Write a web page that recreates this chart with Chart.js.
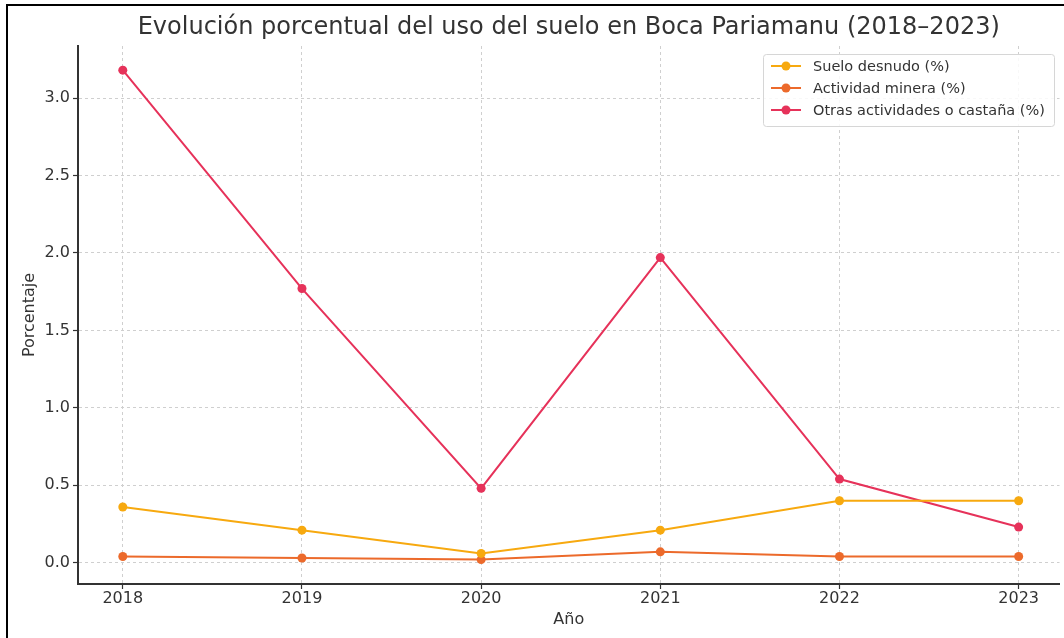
<!DOCTYPE html>
<html>
<head>
<meta charset="utf-8">
<script src="https://cdn.jsdelivr.net/npm/chart.js@4"></script>
<style>
  html, body { margin: 0; padding: 0; background: #fff; }
  #wrap { width: 1064px; height: 638px; }
</style>
</head>
<body>
<div id="wrap"><canvas id="chart" width="1064" height="638"></canvas></div>
<script>
const years = [2018, 2019, 2020, 2021, 2022, 2023];
const sueloDesnudo = [0.36, 0.21, 0.06, 0.21, 0.40, 0.40];
const actividadMinera = [0.04, 0.03, 0.02, 0.07, 0.04, 0.04];
const otrasActividades = [3.18, 1.77, 0.48, 1.97, 0.54, 0.23];
const yTicks = [0, 0.5, 1.0, 1.5, 2.0, 2.5, 3.0];

const FONT = "'DejaVu Sans', sans-serif";
const TEXT = '#333333';

function points(values) {
  return years.map((y, i) => ({ x: y, y: values[i] }));
}

function series(label, values, color) {
  return {
    label: label,
    data: points(values),
    borderColor: color,
    backgroundColor: color,
    borderWidth: 2,
    pointRadius: 4.5,
    pointHoverRadius: 4.5,
    pointBorderWidth: 0,
    tension: 0
  };
}

// frame lines on the left and top edges, white background
const framePlugin = {
  id: 'frame',
  beforeDraw(chart) {
    const ctx = chart.ctx;
    ctx.save();
    ctx.fillStyle = '#fff';
    ctx.fillRect(0, 0, chart.width, chart.height);
    ctx.restore();
  },
  afterDraw(chart) {
    const ctx = chart.ctx;
    ctx.save();
    ctx.strokeStyle = '#000';
    ctx.lineWidth = 2;
    ctx.beginPath();
    ctx.moveTo(7, chart.height);
    ctx.lineTo(7, 5);
    ctx.lineTo(chart.width, 5);
    ctx.stroke();
    ctx.restore();
  }
};

// matplotlib style legend box (line + marker)
const legendPlugin = {
  id: 'mplLegend',
  afterDatasetsDraw(chart) {
    const ctx = chart.ctx;
    const x0 = 763, y0 = 54, w = 291, h = 72;
    ctx.save();
    ctx.fillStyle = 'rgba(255,255,255,0.85)';
    ctx.strokeStyle = '#d6d6d6';
    ctx.lineWidth = 1;
    ctx.beginPath();
    ctx.roundRect(x0 + 0.5, y0 + 0.5, w, h, 3);
    ctx.fill();
    ctx.stroke();
    ctx.font = '14.5px ' + FONT;
    ctx.textBaseline = 'middle';
    chart.data.datasets.forEach((ds, i) => {
      const cy = y0 + 12 + i * 22;
      ctx.strokeStyle = ds.borderColor;
      ctx.lineWidth = 2;
      ctx.beginPath();
      ctx.moveTo(x0 + 8, cy);
      ctx.lineTo(x0 + 38, cy);
      ctx.stroke();
      ctx.fillStyle = ds.borderColor;
      ctx.beginPath();
      ctx.arc(x0 + 23, cy, 4.5, 0, Math.PI * 2);
      ctx.fill();
      ctx.fillStyle = TEXT;
      ctx.fillText(ds.label, x0 + 50, cy + 1);
    });
    ctx.restore();
  }
};

const gridOpts = {
  color: '#cfcfcf',
  lineWidth: 1,
  tickBorderDash: [],
  tickColor: '#333',
  tickLength: 5,
  tickWidth: 1.2
};

new Chart(document.getElementById('chart'), {
  type: 'line',
  data: {
    datasets: [
      series('Suelo desnudo (%)', sueloDesnudo, '#f7a90f'),
      series('Actividad minera (%)', actividadMinera, '#ec6a2b'),
      series('Otras actividades o castaña (%)', otrasActividades, '#e6325a')
    ]
  },
  options: {
    responsive: false,
    animation: false,
    layout: { padding: 0 },
    plugins: {
      legend: { display: false },
      tooltip: { enabled: false },
      title: {
        display: true,
        fullSize: false,
        text: 'Evolución porcentual del uso del suelo en Boca Pariamanu (2018–2023)',
        color: TEXT,
        font: { family: FONT, size: 24, weight: 'normal' },
        padding: { top: 13, bottom: 4.2 }
      }
    },
    scales: {
      x: {
        type: 'linear',
        min: 2017.75,
        max: 2023.228,
        afterBuildTicks(scale) {
          scale.ticks = years.map(v => ({ value: v }));
        },
        afterFit(scale) {
          scale.height = 54;
        },
        ticks: {
          color: TEXT,
          font: { family: FONT, size: 16 },
          padding: 0,
          callback: v => String(v)
        },
        grid: gridOpts,
        border: { display: true, color: '#333', width: 2, dash: [3, 3] },
        title: {
          display: true,
          text: 'Año',
          color: TEXT,
          font: { family: FONT, size: 16 },
          padding: { top: 0, bottom: 8.4 }
        }
      },
      y: {
        min: -0.1375,
        max: 3.336,
        afterBuildTicks(scale) {
          scale.ticks = yTicks.map(v => ({ value: v }));
        },
        afterFit(scale) { scale.width = 78; },
        ticks: {
          color: TEXT,
          font: { family: FONT, size: 16 },
          padding: 3,
          callback: v => v.toFixed(1)
        },
        grid: gridOpts,
        border: { display: true, color: '#333', width: 2, dash: [3, 3] },
        title: {
          display: true,
          text: 'Porcentaje',
          color: TEXT,
          font: { family: FONT, size: 16 },
          padding: { top: 20, bottom: 0 }
        }
      }
    }
  },
  plugins: [framePlugin, legendPlugin]
});
</script>
</body>
</html>
